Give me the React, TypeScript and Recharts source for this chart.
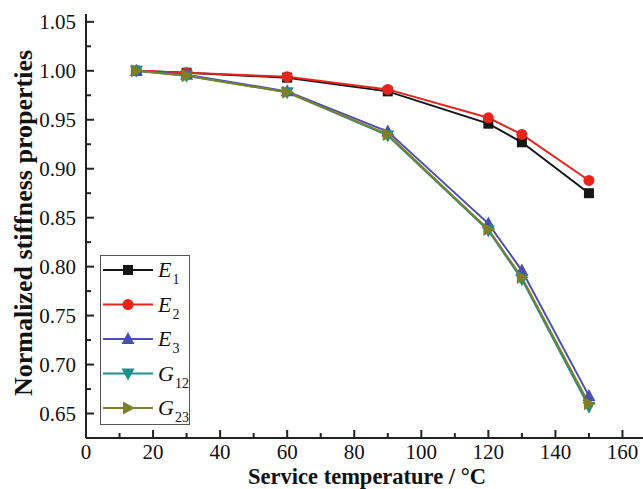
import React from 'react';
import { LineChart, Line, XAxis, YAxis, Legend } from 'recharts';

const temps = [15, 30, 60, 90, 120, 130, 150];
const e1 = [1.0, 0.998, 0.993, 0.979, 0.946, 0.927, 0.875];
const e2 = [1.0, 0.998, 0.994, 0.981, 0.952, 0.935, 0.888];
const e3 = [1.0, 0.996, 0.979, 0.938, 0.844, 0.796, 0.668];
const g12 = [1.0, 0.995, 0.978, 0.934, 0.837, 0.787, 0.657];
const g23 = [1.0, 0.995, 0.978, 0.935, 0.838, 0.789, 0.660];

const xTicks = [0, 10, 20, 30, 40, 50, 60, 70, 80, 90, 100, 110, 120, 130, 140, 150, 160, 170];
const yTicks = [0.65, 0.675, 0.7, 0.725, 0.75, 0.775, 0.8, 0.825, 0.85, 0.875, 0.9, 0.925, 0.95, 0.975, 1.0, 1.025, 1.05];

const data = temps.map((t, i) => ({ t, E1: e1[i], E2: e2[i], E3: e3[i], G12: g12[i], G23: g23[i] }));

const FONT = '"Liberation Serif", "Times New Roman", serif';
const AXIS = '#222';

const SERIES = [
  { key: 'E1', color: '#161616', shape: 'square', sym: 'E', sub: '1' },
  { key: 'E2', color: '#e4261c', shape: 'circle', sym: 'E', sub: '2' },
  { key: 'E3', color: '#4a50b0', shape: 'up', sym: 'E', sub: '3' },
  { key: 'G12', color: '#1f8f8c', shape: 'down', sym: 'G', sub: '12' },
  { key: 'G23', color: '#7f7f28', shape: 'right', sym: 'G', sub: '23' },
];

const Marker = ({ cx, cy, shape, color }: any) => {
  if (shape === 'square') return <rect x={cx - 5} y={cy - 5} width={10} height={10} fill={color} />;
  if (shape === 'circle') return <circle cx={cx} cy={cy} r={5.5} fill={color} />;
  if (shape === 'up') return <polygon points={`${cx},${cy - 7} ${cx - 6.5},${cy + 5} ${cx + 6.5},${cy + 5}`} fill={color} />;
  if (shape === 'down') return <polygon points={`${cx},${cy + 7} ${cx - 6.5},${cy - 5} ${cx + 6.5},${cy - 5}`} fill={color} />;
  return <polygon points={`${cx + 7},${cy} ${cx - 5},${cy - 6.5} ${cx - 5},${cy + 6.5}`} fill={color} />;
};

const isMajorX = (v: number) => v % 20 === 0;
const isMajorY = (v: number) => Math.round(v * 1000) % 50 === 0;

const BottomTick = ({ x, y, payload }: any) => {
  const major = isMajorX(payload.value);
  return (
    <g>
      <line x1={x} y1={y} x2={x} y2={y - (major ? 8 : 5)} stroke={AXIS} strokeWidth={2} />
      {major && payload.value <= 160 && (
        <text x={x} y={y + 21} textAnchor="middle" fontFamily={FONT} fontSize={21} fill="#111">
          {payload.value}
        </text>
      )}
    </g>
  );
};

const TopTick = ({ x, y, payload }: any) => {
  const major = isMajorX(payload.value);
  return <line x1={x} y1={y} x2={x} y2={y + (major ? 8 : 5)} stroke={AXIS} strokeWidth={2} />;
};

const LeftTick = ({ x, y, payload }: any) => {
  const major = isMajorY(payload.value);
  return (
    <g>
      <line x1={x} y1={y} x2={x + (major ? 8 : 5)} y2={y} stroke={AXIS} strokeWidth={2} />
      {major && (
        <text x={x - 10} y={y + 7} textAnchor="end" fontFamily={FONT} fontSize={21} fill="#111">
          {payload.value.toFixed(2)}
        </text>
      )}
    </g>
  );
};

const LegendBox = () => (
  <svg width={90} height={170} style={{ display: 'block' }}>
    <rect x={0.5} y={0.5} width={89} height={169} fill="#fff" stroke="#555" strokeWidth={1} />
    {SERIES.map((s, i) => {
      const y = 15 + i * 34.5;
      return (
        <g key={s.key}>
          <line x1={3} y1={y} x2={53} y2={y} stroke={s.color} strokeWidth={2} />
          <Marker cx={28} cy={y} shape={s.shape} color={s.color} />
          <text x={58} y={y + 7} fontFamily={FONT} fontSize={22} fill="#111">
            <tspan fontStyle="italic">{s.sym}</tspan>
            <tspan fontSize={14} dx={1} dy={7}>{s.sub}</tspan>
          </text>
        </g>
      );
    })}
  </svg>
);

export default function App() {
  return (
    <div style={{ position: 'absolute', left: 0, top: 0, width: 643, height: 489, overflow: 'hidden', background: '#fff' }}>
      <div style={{ position: 'relative', width: 660, height: 489 }}>
        <LineChart width={660} height={489} data={data} margin={{ top: 14, right: 4, left: 0, bottom: 0 }}>
          <XAxis
            dataKey="t"
            type="number"
            domain={[0, 170]}
            ticks={xTicks}
            interval={0}
            height={51}
            tickSize={0}
            tickMargin={0}
            tickLine={false}
            tick={<BottomTick />}
            axisLine={{ stroke: AXIS, strokeWidth: 2 }}
          />
          <XAxis
            xAxisId="top"
            orientation="top"
            dataKey="t"
            type="number"
            domain={[0, 170]}
            ticks={xTicks}
            interval={0}
            height={0}
            tickSize={0}
            tickMargin={0}
            tickLine={false}
            tick={<TopTick />}
            axisLine={{ stroke: AXIS, strokeWidth: 2 }}
          />
          <YAxis
            type="number"
            domain={[0.625, 1.058]}
            ticks={yTicks}
            interval={0}
            width={86}
            tickSize={0}
            tickMargin={0}
            tickLine={false}
            tick={<LeftTick />}
            axisLine={{ stroke: AXIS, strokeWidth: 2 }}
            allowDataOverflow
          />
          <Legend
            layout="vertical"
            align="center"
            verticalAlign="middle"
            content={<LegendBox />}
            wrapperStyle={{ left: 100, top: 255, width: 90, height: 170 }}
          />
          {SERIES.map((s) => (
            <Line
              key={s.key}
              dataKey={s.key}
              stroke={s.color}
              strokeWidth={2}
              isAnimationActive={false}
              dot={(p: any) => <Marker key={`${s.key}-${p.index}`} cx={p.cx} cy={p.cy} shape={s.shape} color={s.color} />}
              activeDot={false}
            />
          ))}
        </LineChart>
        <svg width={660} height={489} style={{ position: 'absolute', left: 0, top: 0, pointerEvents: 'none' }}>
          <text
            transform="translate(32,223) rotate(-90)"
            textAnchor="middle"
            fontFamily={FONT}
            fontWeight="bold"
            fontSize={26}
            fill="#111"
          >
            Normalized stiffness properties
          </text>
          <text x={367} y={484} textAnchor="middle" fontFamily={FONT} fontWeight="bold" fontSize={22.5} fill="#111">
            Service temperature / °C
          </text>
        </svg>
      </div>
    </div>
  );
}
